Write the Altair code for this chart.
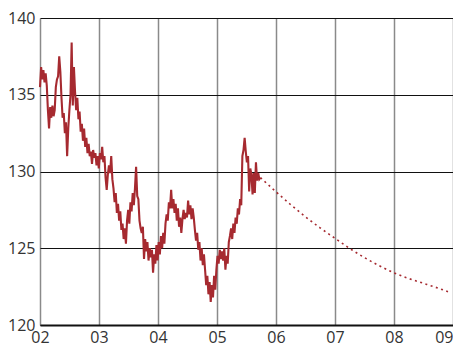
import altair as alt
import pandas as pd

# weekly readings, starting 2002-01-01
start_date = "2002-01-01"
weekly_values = [
    # 2002 Q1
    135.5, 136.8, 136.0, 136.6, 135.8, 136.4, 135.6, 134.0, 132.8, 134.2, 133.5, 134.3, 133.6,
    # 2002 Q2
    134.0, 135.5, 136.0, 136.2, 137.5, 136.5, 134.8, 133.5, 133.8, 132.5, 133.2, 131.0, 132.8,
    # 2002 Q3
    134.0, 135.0, 138.4, 134.3, 136.8, 135.2, 134.0, 134.8, 133.4, 133.9, 132.6, 133.1, 132.0,
    # 2002 Q4
    132.8, 131.6, 132.2, 131.2, 131.8, 131.0, 131.3, 130.5, 131.4, 130.9, 131.2, 130.4, 131.0,
    # 2003 Q1
    130.2, 131.2, 130.8, 131.6, 130.6, 131.0, 129.6, 128.8, 129.8, 130.4, 129.9, 131.0, 129.5,
    # 2003 Q2
    128.9, 128.0, 128.6, 127.3, 127.9, 126.8, 127.4, 126.2, 126.6, 125.6, 126.3, 125.3, 126.8,
    # 2003 Q3
    127.5, 126.6, 128.0, 127.4, 128.6, 127.8, 128.9, 130.3, 128.4, 128.2, 126.8, 126.3, 126.0,
    # 2003 Q4
    126.4, 124.3, 125.6, 124.8, 125.4, 124.2, 125.0, 124.4, 124.9, 123.4, 124.6, 124.0, 125.2,
    # 2004 Q1
    124.2, 125.4, 124.6, 125.8, 125.0, 126.0, 125.3, 126.6, 127.2, 126.8, 128.0, 127.6, 128.8,
    # 2004 Q2
    127.6, 128.2, 127.3, 127.9, 126.8, 127.6, 126.4, 127.0, 126.0, 126.9, 127.5, 126.9, 127.3,
    # 2004 Q3
    127.0, 128.1, 127.2, 127.8, 126.9, 127.6, 127.0, 126.2, 125.5, 126.0, 124.9, 125.4, 124.2,
    # 2004 Q4
    125.0, 123.9, 124.6, 123.6, 122.6, 123.2, 122.0, 122.8, 121.5, 122.6, 121.8, 123.2, 122.3,
    # 2005 Q1
    123.6, 124.5, 124.0, 124.9, 124.3, 124.8, 124.2, 125.0, 123.6, 124.5, 124.0, 125.4, 125.8,
    # 2005 Q2
    126.3, 125.6, 126.6, 126.0, 127.0, 126.6, 127.6, 127.2, 128.2, 127.8, 131.0, 131.4, 132.2,
    # 2005 Q3
    131.3, 130.6, 131.0, 128.7, 130.2, 129.8, 128.5, 129.9, 128.6, 130.6, 129.4, 129.9, 129.5, 129.6,
]

# forward curve (dotted)
fwd_dates = ["2005-09-27", "2006-01-01", "2006-04-01", "2006-07-01", "2006-10-01",
             "2007-01-01", "2007-04-01", "2007-07-01", "2007-10-01", "2008-01-01",
             "2008-04-01", "2008-07-01", "2008-10-01", "2008-12-01"]
fwd_values = [129.6, 128.68, 127.85, 127.06, 126.33, 125.65, 125.0, 124.4, 123.87, 123.4,
              123.03, 122.72, 122.4, 122.17]

y_ticks = [120, 125, 130, 135, 140]
x_years = list(range(2002, 2010))

color = "#A62A30"

actual = pd.DataFrame({
    "date": pd.date_range(start_date, periods=len(weekly_values), freq="7D"),
    "value": weekly_values,
})
forward = pd.DataFrame({"date": pd.to_datetime(fwd_dates), "value": fwd_values})

font = "Open Sans"
x_enc = alt.X(
    "date:T",
    scale=alt.Scale(domain=[alt.DateTime(year=2002, month=1, date=1),
                            alt.DateTime(year=2009, month=1, date=1)]),
    axis=alt.Axis(
        values=[alt.DateTime(year=y, month=1, date=1) for y in x_years],
        format="%y", title=None, grid=True, gridColor="#8a8a8a", gridWidth=1.5,
        domain=True, domainColor="#111111", domainWidth=2, ticks=False,
        labelFont=font, labelFontSize=16, labelColor="#333333", labelPadding=4,
        labelFlush=False,
        labelAlign={"condition": {"test": "year(datum.value) >= 2009", "value": "right"},
                    "value": "center"},
    ),
)
y_enc = alt.Y(
    "value:Q",
    scale=alt.Scale(domain=[120, 140], nice=False, zero=False),
    axis=alt.Axis(
        values=y_ticks, title=None, grid=True, gridColor="#111111", gridWidth=1.2,
        domain=False, ticks=False, labelFont=font, labelFontSize=16,
        labelColor="#333333", labelPadding=5,
    ),
)

line_actual = alt.Chart(actual).mark_line(color=color, strokeWidth=2.1).encode(x=x_enc, y=y_enc)
line_fwd = alt.Chart(forward).mark_line(
    color=color, strokeWidth=1.6, strokeDash=[2, 3.5], interpolate="monotone"
).encode(x=x_enc, y=y_enc)

chart = alt.layer(line_actual, line_fwd).properties(
    width=413, height=307,
    autosize=alt.AutoSizeParams(type="none"),
    padding={"left": 32, "top": 10, "right": 0, "bottom": 19},
).configure_view(stroke=None)

chart.save("out.html", embed_options={"renderer": "svg", "actions": False})
